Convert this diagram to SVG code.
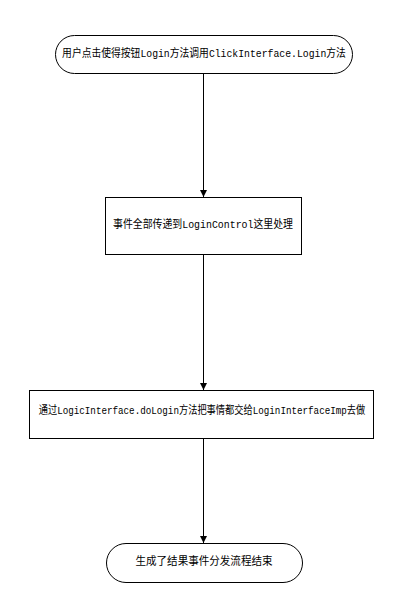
<svg xmlns="http://www.w3.org/2000/svg" width="403" height="611" viewBox="0 0 403 611">
<style>
.n{fill:#fff;stroke:#000;stroke-width:1}
.t{font-family:"Liberation Mono","Noto Sans CJK SC",monospace;font-size:11px;fill:#000;text-anchor:middle;dominant-baseline:central}
.c{stroke:#000;stroke-width:1;fill:none}
</style>
<defs>
<marker id="a" markerWidth="8" markerHeight="8" refX="7" refY="4" orient="auto" markerUnits="userSpaceOnUse">
<path d="M0,0.5 L7,4 L0,7.5 Z" fill="#000"/>
</marker>
</defs>
<rect width="403" height="611" fill="#fff"/>
<g id="connectors">
<line class="c" x1="203.5" y1="73" x2="203.5" y2="197" marker-end="url(#a)"/>
<line class="c" x1="203.5" y1="255" x2="203.5" y2="390" marker-end="url(#a)"/>
<line class="c" x1="203.5" y1="438" x2="203.5" y2="543" marker-end="url(#a)"/>
</g>
<g id="start">
<rect class="n" x="55.5" y="35.5" width="297" height="38" rx="19" ry="19"/>
<text class="t" transform="translate(204,54) scale(0.89,1)" x="0" y="0">用户点击使得按钮Login方法调用ClickInterface.Login方法</text>
</g>
<g id="control">
<rect class="n" x="105.5" y="197.5" width="196" height="57"/>
<text class="t" transform="translate(203,225) scale(0.9,1)" x="0" y="0">事件全部传递到LoginControl这里处理</text>
</g>
<g id="logic">
<rect class="n" x="29.5" y="390.5" width="344" height="48"/>
<text class="t" transform="translate(202,411) scale(0.84,1)" x="0" y="0">通过LogicInterface.doLogin方法把事情都交给LoginInterfaceImp去做</text>
</g>
<g id="end">
<rect class="n" x="106.5" y="543.5" width="196" height="39" rx="19.5" ry="19.5"/>
<text class="t" x="204" y="562" textLength="137" lengthAdjust="spacingAndGlyphs">生成了结果事件分发流程结束</text>
</g>
</svg>
